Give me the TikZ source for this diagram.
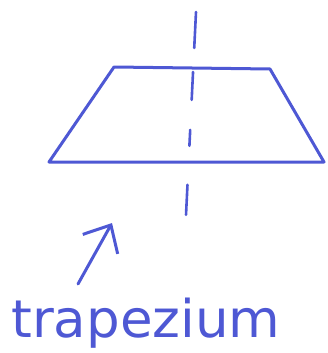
\documentclass[tikz,border=0pt]{standalone}
\usepackage{fontspec}
\setsansfont{DejaVu Sans}
\usetikzlibrary{arrows.meta}
\definecolor{pen}{RGB}{78,88,212}
\tikzstyle{stroke} = [
    draw=pen,
    line width=3pt,
    line cap=round,
    line join=round
]
\tikzstyle{axis} = [
    stroke,
    line width=2.6pt,
    dash pattern=on 36pt off 24pt on 28pt off 30pt on 16pt off 39pt on 30pt off 10pt
]
\tikzstyle{arrow} = [stroke, -{Straight Barb[length=22pt,width=40pt,line width=3pt]}]
\tikzstyle{hand} = [
    text=pen,
    font=\sffamily\fontsize{52}{52}\selectfont,
    xscale=1.02,
    inner sep=0pt
]
\begin{document}
\begin{tikzpicture}[x=1pt,y=-1pt]
\useasboundingbox (0,0) rectangle (327,353);

% trapezium
\draw [stroke] (114,67) -- (270,69) -- (324,162) -- (49,162) -- cycle;

% axis of symmetry
\draw [axis] (196,12) -- (186,215);

% label
\node (name) [hand, anchor=base] at (146,337) {trapezium};
\coordinate (tail) at (78,284);
\coordinate (tip) at (112,223);
\draw [arrow] (tail) -- (tip);

\end{tikzpicture}
\end{document}
